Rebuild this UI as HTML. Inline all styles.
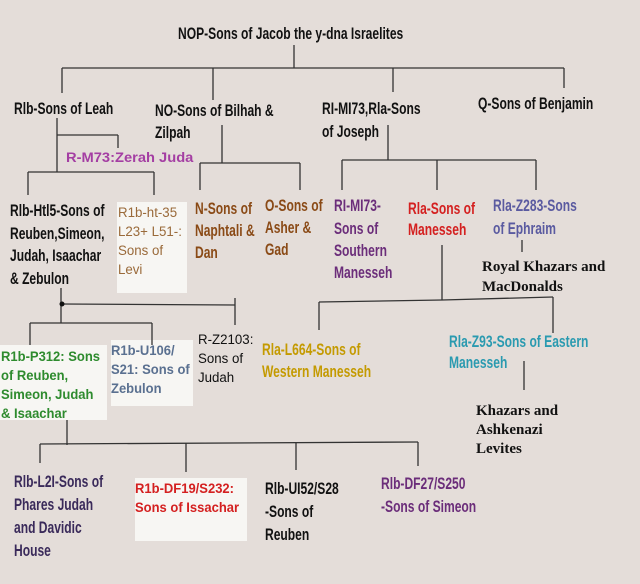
<!DOCTYPE html>
<html><head><meta charset="utf-8"><style>
html,body{margin:0;padding:0;background:#e4ddd9;}
svg{display:block}
.c{font-family:"Liberation Sans",sans-serif;font-weight:bold;font-size:17px;}
.r{font-family:"Liberation Sans",sans-serif;font-size:14px;}
.b{font-family:"Liberation Sans",sans-serif;font-weight:bold;font-size:14px;}
.s{font-family:"Liberation Serif",serif;font-weight:bold;font-size:15px;fill:#111;}
line{stroke:#333;stroke-width:1.3}
</style></head><body>
<svg width="640" height="584" viewBox="0 0 640 584" xmlns="http://www.w3.org/2000/svg">
<rect width="640" height="584" fill="#e4ddd9"/>
<rect x="117" y="202" width="70" height="91" fill="#f7f6f3"/>
<rect x="0" y="345" width="107" height="75" fill="#f7f6f3"/>
<rect x="111" y="340" width="82" height="66" fill="#f7f6f3"/>
<rect x="135" y="478" width="112" height="63" fill="#f7f6f3"/>
<g>
<line x1="294" y1="45" x2="294" y2="68"/>
<line x1="62" y1="68" x2="564" y2="68"/>
<line x1="62" y1="68" x2="62" y2="93"/>
<line x1="213" y1="68" x2="213" y2="100"/>
<line x1="393" y1="68" x2="393" y2="92"/>
<line x1="564" y1="68" x2="564" y2="88"/>
<line x1="57" y1="118" x2="57" y2="172"/>
<line x1="57" y1="135" x2="118" y2="135"/>
<line x1="118" y1="135" x2="118" y2="148"/>
<line x1="28" y1="172" x2="154" y2="172"/>
<line x1="28" y1="172" x2="28" y2="195"/>
<line x1="154" y1="172" x2="154" y2="195"/>
<line x1="222" y1="125" x2="222" y2="163"/>
<line x1="200" y1="163" x2="300" y2="163"/>
<line x1="200" y1="163" x2="200" y2="190"/>
<line x1="300" y1="163" x2="300" y2="190"/>
<line x1="388" y1="125" x2="388" y2="160"/>
<line x1="342" y1="160" x2="536" y2="160"/>
<line x1="342" y1="160" x2="342" y2="190"/>
<line x1="437" y1="160" x2="437" y2="190"/>
<line x1="536" y1="160" x2="536" y2="190"/>
<line x1="522" y1="240" x2="522" y2="252"/>
<line x1="442" y1="245" x2="442" y2="300"/>
<line x1="319" y1="302" x2="442" y2="300"/>
<line x1="442" y1="300" x2="553" y2="297"/>
<line x1="319" y1="302" x2="319" y2="330"/>
<line x1="553" y1="297" x2="553" y2="333"/>
<line x1="61" y1="288" x2="61" y2="323"/>
<line x1="62" y1="304" x2="235" y2="305"/>
<line x1="235" y1="298" x2="235" y2="325"/>
<line x1="30" y1="323" x2="152" y2="323"/>
<line x1="30" y1="323" x2="30" y2="345"/>
<line x1="152" y1="323" x2="152" y2="345"/>
<line x1="524" y1="361" x2="524" y2="390"/>
<line x1="67" y1="420" x2="67" y2="445"/>
<line x1="40" y1="444" x2="418" y2="442"/>
<line x1="40" y1="444" x2="40" y2="463"/>
<line x1="186" y1="443" x2="186" y2="472"/>
<line x1="296" y1="443" x2="296" y2="470"/>
<line x1="418" y1="442" x2="418" y2="466"/>
</g>
<circle cx="62" cy="304" r="2.5" fill="#111"/>

<g transform="translate(178,0) scale(0.71,1)"><text class="c" x="0" y="39" fill="#111">NOP-Sons of Jacob the y-dna Israelites</text></g>
<g transform="translate(14,0) scale(0.71,1)"><text class="c" x="0" y="114" fill="#111">Rlb-Sons of Leah</text></g>
<g transform="translate(155,0) scale(0.71,1)"><text class="c" fill="#111"><tspan x="0" y="116">NO-Sons of Bilhah &amp;</tspan><tspan x="0" y="138">Zilpah</tspan></text></g>
<g transform="translate(322,0) scale(0.71,1)"><text class="c" fill="#111"><tspan x="0" y="114">RI-MI73,Rla-Sons</tspan><tspan x="0" y="137">of Joseph</tspan></text></g>
<g transform="translate(478,0) scale(0.71,1)"><text class="c" x="0" y="109" fill="#111">Q-Sons of Benjamin</text></g>
<g transform="translate(66,0) scale(1.05,1)"><text class="b" x="0" y="162" fill="#a43ea3">R-M73:Zerah Juda</text></g>
<g transform="translate(10,0) scale(0.71,1)"><text class="c" fill="#111"><tspan x="0" y="216">Rlb-Htl5-Sons of</tspan><tspan x="0" y="239">Reuben,Simeon,</tspan><tspan x="0" y="261">Judah, Isaachar</tspan><tspan x="0" y="284">&amp; Zebulon</tspan></text></g>
<g transform="translate(118,0) scale(0.95,1)"><text class="r" fill="#9a6a3a"><tspan x="0" y="217">R1b-ht-35</tspan><tspan x="0" y="236">L23+ L51-:</tspan><tspan x="0" y="255">Sons of</tspan><tspan x="0" y="274">Levi</tspan></text></g>
<g transform="translate(195,0) scale(0.71,1)"><text class="c" fill="#8a4a16"><tspan x="0" y="214">N-Sons of</tspan><tspan x="0" y="236">Naphtali &amp;</tspan><tspan x="0" y="258">Dan</tspan></text></g>
<g transform="translate(265,0) scale(0.71,1)"><text class="c" fill="#8a4a16"><tspan x="0" y="211">O-Sons of</tspan><tspan x="0" y="233">Asher &amp;</tspan><tspan x="0" y="255">Gad</tspan></text></g>
<g transform="translate(334,0) scale(0.71,1)"><text class="c" fill="#6b2d7a"><tspan x="0" y="211">RI-MI73-</tspan><tspan x="0" y="234">Sons of</tspan><tspan x="0" y="256">Southern</tspan><tspan x="0" y="278">Manesseh</tspan></text></g>
<g transform="translate(408,0) scale(0.71,1)"><text class="c" fill="#d42020"><tspan x="0" y="214">Rla-Sons of</tspan><tspan x="0" y="235">Manesseh</tspan></text></g>
<g transform="translate(493,0) scale(0.71,1)"><text class="c" fill="#5a5aa0"><tspan x="0" y="211">Rla-Z283-Sons</tspan><tspan x="0" y="234">of Ephraim</tspan></text></g>
<text class="s"><tspan x="482" y="271">Royal Khazars and</tspan><tspan x="482" y="291">MacDonalds</tspan></text>
<g transform="translate(1,0) scale(0.93,1)"><text class="b" fill="#2e8b2e"><tspan x="0" y="361">R1b-P312: Sons</tspan><tspan x="0" y="380">of Reuben,</tspan><tspan x="0" y="399">Simeon, Judah</tspan><tspan x="0" y="418">&amp; Isaachar</tspan></text></g>
<g transform="translate(111,0) scale(0.93,1)"><text class="b" fill="#5a7090"><tspan x="0" y="355">R1b-U106/</tspan><tspan x="0" y="374">S21: Sons of</tspan><tspan x="0" y="393">Zebulon</tspan></text></g>
<g transform="translate(198,0) scale(0.95,1)"><text class="r" fill="#111"><tspan x="0" y="344">R-Z2103:</tspan><tspan x="0" y="363">Sons of</tspan><tspan x="0" y="382">Judah</tspan></text></g>
<g transform="translate(262,0) scale(0.71,1)"><text class="c" fill="#c49a00"><tspan x="0" y="355">Rla-L664-Sons of</tspan><tspan x="0" y="377">Western Manesseh</tspan></text></g>
<g transform="translate(449,0) scale(0.71,1)"><text class="c" fill="#2a9ab0"><tspan x="0" y="347">Rla-Z93-Sons of Eastern</tspan><tspan x="0" y="368">Manesseh</tspan></text></g>
<text class="s"><tspan x="476" y="415">Khazars and</tspan><tspan x="476" y="434">Ashkenazi</tspan><tspan x="476" y="453">Levites</tspan></text>
<g transform="translate(14,0) scale(0.71,1)"><text class="c" fill="#3a2a5a"><tspan x="0" y="487">Rlb-L2I-Sons of</tspan><tspan x="0" y="510">Phares Judah</tspan><tspan x="0" y="533">and Davidic</tspan><tspan x="0" y="556">House</tspan></text></g>
<g transform="translate(135,0) scale(0.93,1)"><text class="b" fill="#d42020"><tspan x="0" y="493">R1b-DF19/S232:</tspan><tspan x="0" y="512">Sons of Issachar</tspan></text></g>
<g transform="translate(265,0) scale(0.71,1)"><text class="c" fill="#111"><tspan x="0" y="494">Rlb-UI52/S28</tspan><tspan x="0" y="517">-Sons of</tspan><tspan x="0" y="540">Reuben</tspan></text></g>
<g transform="translate(381,0) scale(0.71,1)"><text class="c" fill="#6b2d7a"><tspan x="0" y="489">Rlb-DF27/S250</tspan><tspan x="0" y="512">-Sons of Simeon</tspan></text></g>
</svg>
</body></html>
